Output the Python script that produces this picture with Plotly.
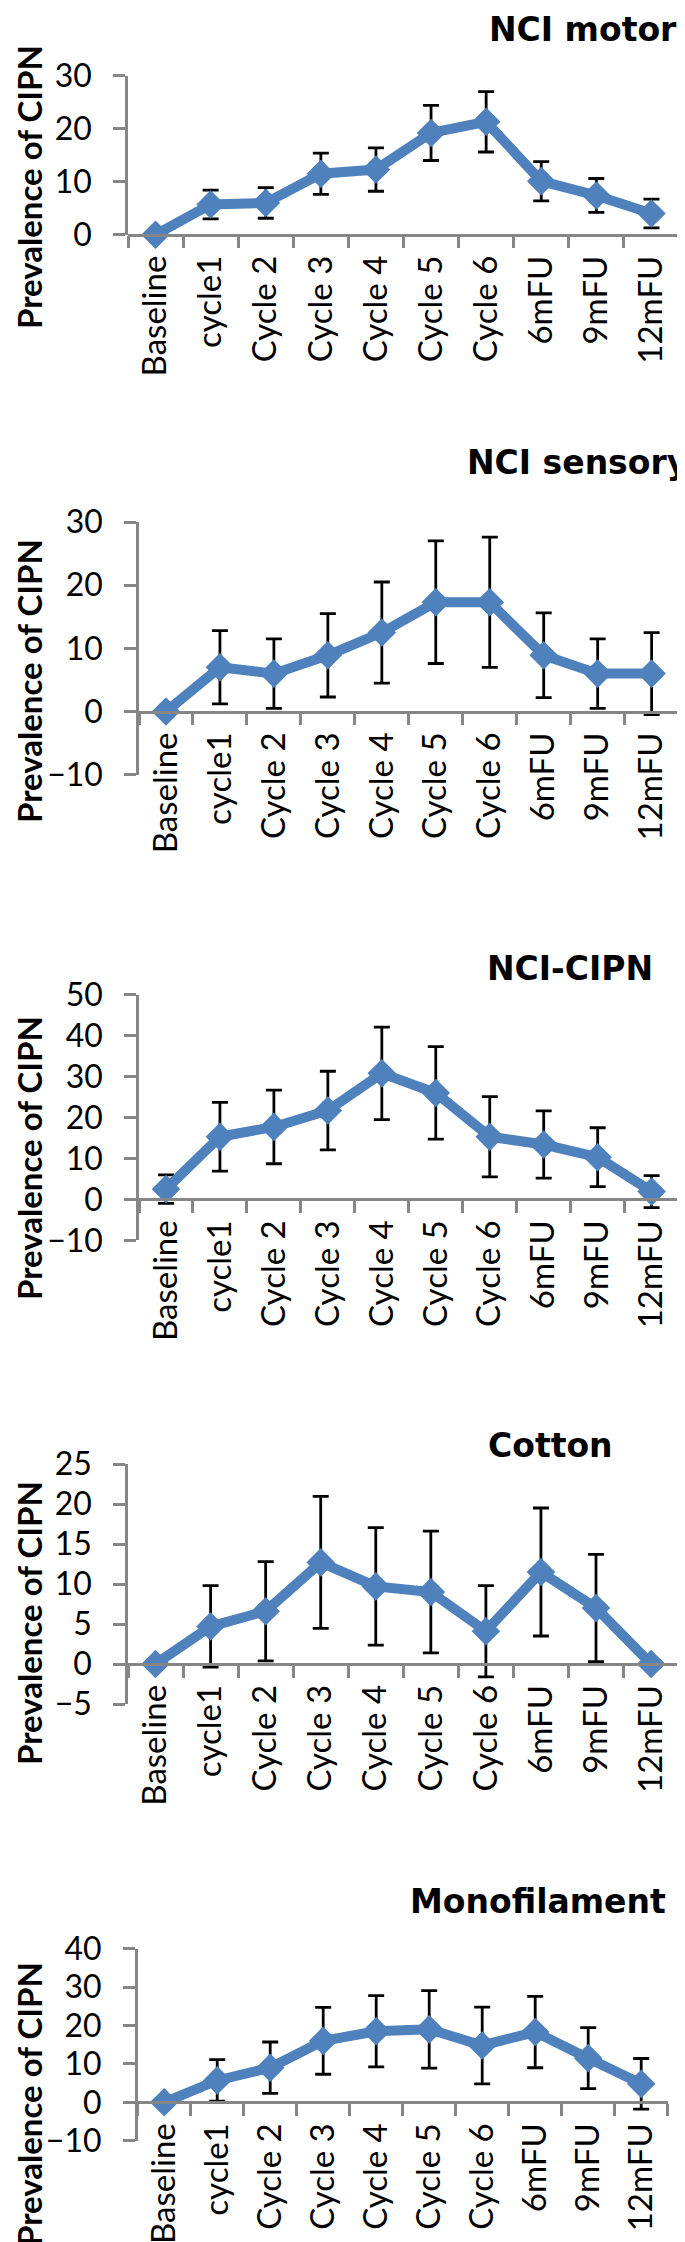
import plotly.graph_objects as go

W, H = 685, 2242

categories = ["Baseline", "cycle1", "Cycle 2", "Cycle 3", "Cycle 4", "Cycle 5",
              "Cycle 6", "6mFU", "9mFU", "12mFU"]

titles = ["NCI motor", "NCI sensory", "NCI-CIPN", "Cotton", "Monofilament"]

motor_vals = [0, 5.7, 6.0, 11.5, 12.3, 19.2, 21.3, 10.1, 7.4, 4.0]
motor_err = [0, 2.7, 2.9, 3.9, 4.1, 5.2, 5.7, 3.7, 3.2, 2.7]

sensory_vals = [0, 7.0, 6.0, 8.9, 12.5, 17.3, 17.3, 8.9, 6.0, 6.0]
sensory_err = [0, 5.8, 5.5, 6.6, 8.0, 9.7, 10.3, 6.7, 5.5, 6.5]

cipn_vals = [2.5, 15.3, 17.7, 21.7, 30.8, 26.0, 15.3, 13.4, 10.3, 1.9]
cipn_err = [3.5, 8.4, 9.0, 9.6, 11.3, 11.3, 9.8, 8.2, 7.2, 3.9]

cotton_vals = [0, 4.7, 6.6, 12.7, 9.7, 9.0, 4.1, 11.5, 7.0, 0]
cotton_err = [0, 5.1, 6.2, 8.25, 7.35, 7.6, 5.7, 8.0, 6.7, 0]

mono_vals = [0, 5.7, 9.0, 16.0, 18.5, 19.0, 14.8, 18.3, 11.5, 4.8]
mono_err = [0, 5.4, 6.7, 8.7, 9.3, 10.1, 10.0, 9.3, 7.95, 6.6]

series_vals = [motor_vals, sensory_vals, cipn_vals, cotton_vals, mono_vals]
series_err = [motor_err, sensory_err, cipn_err, cotton_err, mono_err]

y_ranges = [[0, 30], [-10, 30], [-10, 50], [-5, 25], [-10, 40]]
y_ticks = [[0, 10, 20, 30], [-10, 0, 10, 20, 30], [-10, 0, 10, 20, 30, 40, 50],
           [-5, 0, 5, 10, 15, 20, 25], [-10, 0, 10, 20, 30, 40]]

# layout geometry (pixels)
plot_top = [67.7, 514, 986.7, 1456, 1940.7]
plot_bot = [226.7, 766.7, 1232.3, 1696, 2132.7]
plot_left = [120, 131, 131, 120, 129.7]
plot_right = [671, 670.6, 670.6, 670.6, 659.7]
title_right = [671, 682, 647, 607, 660]
title_cy = [21, 455, 960, 1437, 1893]
ytitle_cx = [21, 21, 21, 21, 21]
ytitle_cy = [179, 673, 1150, 1615, 2096]

BLUE = "#4F81BD"
GRAY = "#868686"
TICKFONT = "Lato, Roboto, sans-serif"

fig = go.Figure()
layout = dict(
    width=W, height=H,
    margin=dict(l=0, r=0, t=0, b=0, autoexpand=False),
    paper_bgcolor="white", plot_bgcolor="white",
    showlegend=False,
    annotations=[],
)

for i in range(5):
    n = "" if i == 0 else str(i + 1)
    fig.add_trace(go.Scatter(
        x=categories, y=series_vals[i],
        xaxis="x" + n, yaxis="y" + n,
        mode="lines+markers",
        line=dict(color=BLUE, width=10),
        marker=dict(symbol="diamond", size=22, color=BLUE),
        error_y=dict(type="data", array=series_err[i], visible=True,
                     color="black", thickness=2.8, width=8),
        cliponaxis=False,
    ))
    y0 = 1 - plot_bot[i] / H
    y1 = 1 - plot_top[i] / H
    lo, hi = y_ranges[i]
    zero_pos = y0 + (0 - lo) / (hi - lo) * (y1 - y0)
    layout["xaxis" + n] = dict(
        domain=[plot_left[i] / W, plot_right[i] / W],
        type="category", range=[-0.5, 9.5],
        tickson="boundaries", ticks="outside", ticklen=12, tickwidth=2.5,
        tickcolor=GRAY, showline=True, linecolor=GRAY, linewidth=2.5,
        tickangle=-90, tickfont=dict(family=TICKFONT, size=33, color="black"),
        ticklabelstandoff=6,
        showgrid=False, zeroline=False,
        anchor="free", position=zero_pos,
        automargin=False, fixedrange=True,
    )
    layout["yaxis" + n] = dict(
        domain=[y0, y1], range=y_ranges[i], tickvals=y_ticks[i],
        showline=True, linecolor=GRAY, linewidth=2.5,
        ticks="outside", ticklen=12, tickwidth=2.5, tickcolor=GRAY,
        tickfont=dict(family=TICKFONT, size=32, color="black"),
        ticklabelstandoff=15,
        showgrid=False, zeroline=False, anchor="x" + n,
        automargin=False, fixedrange=True,
    )
    layout["annotations"].append(dict(
        text="<b>%s</b>" % titles[i], xref="paper", yref="paper",
        x=title_right[i] / W, y=1 - title_cy[i] / H,
        xanchor="right", yanchor="middle", showarrow=False,
        font=dict(family="DejaVu Sans", size=33, color="black"),
    ))
    layout["annotations"].append(dict(
        text="<b>Prevalence of CIPN</b>", xref="paper", yref="paper",
        x=ytitle_cx[i] / W, y=1 - ytitle_cy[i] / H,
        xanchor="center", yanchor="middle", showarrow=False, textangle=-90,
        font=dict(family="Lato, Roboto, sans-serif", size=33, color="black"),
    ))

fig.update_layout(**layout)
fig.write_html("out.html")
